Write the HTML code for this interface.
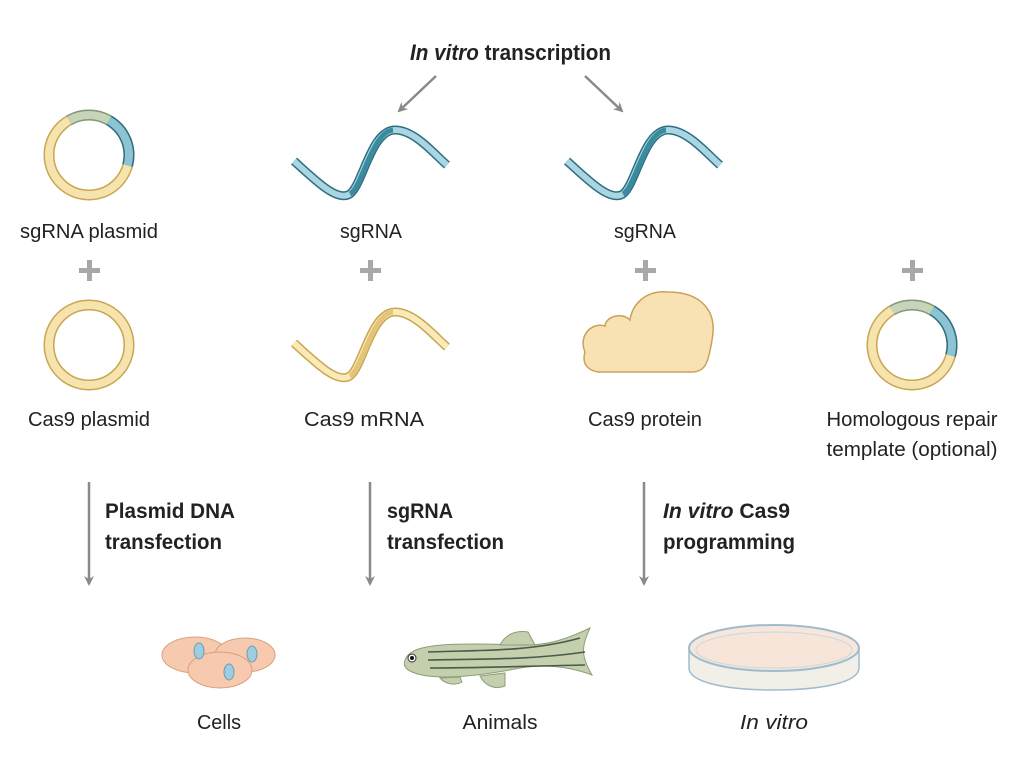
<!DOCTYPE html>
<html><head><meta charset="utf-8"><style>
html,body{margin:0;padding:0;background:#fff;}
svg{display:block;}
text{font-family:"Liberation Sans Narrow","Liberation Sans",sans-serif;fill:#222;}
</style></head><body>
<svg width="1024" height="760" viewBox="0 0 1024 760" xmlns="http://www.w3.org/2000/svg">
<defs>
<marker id="ah" markerWidth="10" markerHeight="10" refX="8" refY="5" orient="auto" markerUnits="userSpaceOnUse">
<path d="M0,0 L10,5 L0,10 L3,5 Z" fill="#8a8a8a"/>
</marker>
<g id="blueRib">
<path d="M294,161 C315,180 335,200 348,195 C362,190 370,130 395,130 C415,130 435,155 447,165" fill="none" stroke="#2d6f80" stroke-width="9" stroke-linecap="butt"/>
<path d="M294,161 C315,180 335,200 348,195 C362,190 370,130 395,130 C415,130 435,155 447,165" fill="none" stroke="#a9d6e2" stroke-width="6"/>
<path d="M350,194 C362,188 372,132 393,130" fill="none" stroke="#3a8aa0" stroke-width="5"/>
</g>
</defs>

<text x="410" y="60" font-size="22" font-weight="bold" textLength="201" lengthAdjust="spacingAndGlyphs"><tspan font-style="italic">In vitro</tspan> transcription</text>
<line x1="436" y1="76" x2="399" y2="111" stroke="#8a8a8a" stroke-width="2.5" marker-end="url(#ah)"/>
<line x1="585" y1="76" x2="622" y2="111" stroke="#8a8a8a" stroke-width="2.5" marker-end="url(#ah)"/>

<circle cx="89" cy="155" r="40" fill="none" stroke="#c9a650" stroke-width="11"/>
<circle cx="89" cy="155" r="40" fill="none" stroke="#f6e3ad" stroke-width="8"/>
<path d="M69,120.4 A40,40 0 0 1 109,120.4" fill="none" stroke="#7f9a7a" stroke-width="11"/>
<path d="M69,120.4 A40,40 0 0 1 109,120.4" fill="none" stroke="#c8d4b8" stroke-width="8"/>
<path d="M109,120.4 A40,40 0 0 1 127.6,165.4" fill="none" stroke="#2d6f80" stroke-width="11"/>
<path d="M109,120.4 A40,40 0 0 1 127.6,165.4" fill="none" stroke="#8cc4d4" stroke-width="8"/>

<use href="#blueRib"/>
<use href="#blueRib" transform="translate(273,0)"/>

<text x="89" y="238" font-size="20" text-anchor="middle" textLength="138" lengthAdjust="spacingAndGlyphs">sgRNA plasmid</text>
<text x="371" y="238" font-size="20" text-anchor="middle" textLength="62" lengthAdjust="spacingAndGlyphs">sgRNA</text>
<text x="645" y="238" font-size="20" text-anchor="middle" textLength="62" lengthAdjust="spacingAndGlyphs">sgRNA</text>

<g fill="#a8a8a8">
<rect x="79" y="268" width="21" height="5"/><rect x="87" y="260" width="5" height="21"/>
<rect x="360" y="268" width="21" height="5"/><rect x="368" y="260" width="5" height="21"/>
<rect x="635" y="268" width="21" height="5"/><rect x="643" y="260" width="5" height="21"/>
<rect x="902" y="268" width="21" height="5"/><rect x="910" y="260" width="5" height="21"/>
</g>

<circle cx="89" cy="345" r="40" fill="none" stroke="#c9a650" stroke-width="11"/>
<circle cx="89" cy="345" r="40" fill="none" stroke="#f6e3ad" stroke-width="8"/>

<g transform="translate(0,182)">
<path d="M294,161 C315,180 335,200 348,195 C362,190 370,130 395,130 C415,130 435,155 447,165" fill="none" stroke="#c9a650" stroke-width="9"/>
<path d="M294,161 C315,180 335,200 348,195 C362,190 370,130 395,130 C415,130 435,155 447,165" fill="none" stroke="#fbe9b8" stroke-width="6"/>
<path d="M350,194 C362,188 372,132 393,130" fill="none" stroke="#e3c57a" stroke-width="5"/>
</g>

<path d="M585,352 C578,335 592,322 605,326 C606,316 622,312 630,320 C632,305 645,290 668,292 C700,292 718,310 712,340 C708,365 705,372 690,372 L598,372 C586,370 582,362 585,352 Z" fill="#f8e2b3" stroke="#c9a25a" stroke-width="1.5"/>

<circle cx="912" cy="345" r="40" fill="none" stroke="#c9a650" stroke-width="11"/>
<circle cx="912" cy="345" r="40" fill="none" stroke="#f6e3ad" stroke-width="8"/>
<path d="M892,310.4 A40,40 0 0 1 932,310.4" fill="none" stroke="#7f9a7a" stroke-width="11"/>
<path d="M892,310.4 A40,40 0 0 1 932,310.4" fill="none" stroke="#c8d4b8" stroke-width="8"/>
<path d="M932,310.4 A40,40 0 0 1 950.6,355.4" fill="none" stroke="#2d6f80" stroke-width="11"/>
<path d="M932,310.4 A40,40 0 0 1 950.6,355.4" fill="none" stroke="#8cc4d4" stroke-width="8"/>

<text x="89" y="426" font-size="20" text-anchor="middle" textLength="122" lengthAdjust="spacingAndGlyphs">Cas9 plasmid</text>
<text x="364" y="426" font-size="20" text-anchor="middle" textLength="120" lengthAdjust="spacingAndGlyphs">Cas9 mRNA</text>
<text x="645" y="426" font-size="20" text-anchor="middle" textLength="114" lengthAdjust="spacingAndGlyphs">Cas9 protein</text>
<text x="912" y="426" font-size="20" text-anchor="middle" textLength="171" lengthAdjust="spacingAndGlyphs">Homologous repair</text>
<text x="912" y="456" font-size="20" text-anchor="middle" textLength="171" lengthAdjust="spacingAndGlyphs">template (optional)</text>

<line x1="89" y1="482" x2="89" y2="584" stroke="#8a8a8a" stroke-width="2.5" marker-end="url(#ah)"/>
<line x1="370" y1="482" x2="370" y2="584" stroke="#8a8a8a" stroke-width="2.5" marker-end="url(#ah)"/>
<line x1="644" y1="482" x2="644" y2="584" stroke="#8a8a8a" stroke-width="2.5" marker-end="url(#ah)"/>

<text x="105" y="518" font-size="21" font-weight="bold" textLength="130" lengthAdjust="spacingAndGlyphs">Plasmid DNA</text>
<text x="105" y="549" font-size="21" font-weight="bold" textLength="117" lengthAdjust="spacingAndGlyphs">transfection</text>
<text x="387" y="518" font-size="21" font-weight="bold" textLength="66" lengthAdjust="spacingAndGlyphs">sgRNA</text>
<text x="387" y="549" font-size="21" font-weight="bold" textLength="117" lengthAdjust="spacingAndGlyphs">transfection</text>
<text x="663" y="518" font-size="21" font-weight="bold" textLength="127" lengthAdjust="spacingAndGlyphs"><tspan font-style="italic">In vitro</tspan> Cas9</text>
<text x="663" y="549" font-size="21" font-weight="bold" textLength="132" lengthAdjust="spacingAndGlyphs">programming</text>

<g stroke="#d9a07e" stroke-width="1" fill="#f7c9ae">
<ellipse cx="195" cy="655" rx="33" ry="18"/>
<ellipse cx="245" cy="655" rx="30" ry="17"/>
<ellipse cx="220" cy="670" rx="32" ry="18"/>
</g>
<g fill="#9fcde0" stroke="#6a9fb5" stroke-width="1">
<ellipse cx="199" cy="651" rx="5" ry="8"/>
<ellipse cx="252" cy="654" rx="5" ry="8"/>
<ellipse cx="229" cy="672" rx="5" ry="8"/>
</g>

<g>
<path d="M405,660 C410,645 440,642 520,645 C545,646 565,640 590,628 C582,645 580,655 592,675 C568,666 545,664 520,668 C470,678 430,680 412,672 C405,669 403,665 405,660 Z" fill="#c4cfae" stroke="#8f9c78" stroke-width="1"/>
<path d="M500,645 C505,635 515,630 528,632 L535,645 Z" fill="#c4cfae" stroke="#8f9c78" stroke-width="1"/>
<path d="M480,676 C485,686 495,690 505,686 L505,673 Z" fill="#c4cfae" stroke="#8f9c78" stroke-width="1"/>
<path d="M440,678 C445,684 455,686 462,682 L460,677 Z" fill="#c4cfae" stroke="#8f9c78" stroke-width="1"/>
<path d="M428,652 C480,650 530,652 580,638" fill="none" stroke="#4a5a48" stroke-width="1.6"/>
<path d="M428,660 C480,659 530,660 585,652" fill="none" stroke="#4a5a48" stroke-width="1.6"/>
<path d="M430,668 C480,668 530,666 585,665" fill="none" stroke="#4a5a48" stroke-width="1.6"/>
<circle cx="412" cy="658" r="4" fill="#fff" stroke="#333" stroke-width="1"/>
<circle cx="412" cy="658" r="2" fill="#111"/>
</g>

<g>
<path d="M689,648 L689,668 C689,682 725,690 774,690 C823,690 859,682 859,668 L859,648 Z" fill="#f2eee8" stroke="#9fbccc" stroke-width="1.5"/>
<ellipse cx="774" cy="648" rx="85" ry="23" fill="#f7e6dc" stroke="#9fbccc" stroke-width="2"/>
<ellipse cx="774" cy="650" rx="78" ry="18" fill="#f8e5d9" stroke="#c8d8e0" stroke-width="1"/>
</g>

<text x="219" y="729" font-size="20" text-anchor="middle" textLength="44" lengthAdjust="spacingAndGlyphs">Cells</text>
<text x="500" y="729" font-size="20" text-anchor="middle" textLength="75" lengthAdjust="spacingAndGlyphs">Animals</text>
<text x="774" y="729" font-size="20" font-style="italic" text-anchor="middle" textLength="68" lengthAdjust="spacingAndGlyphs">In vitro</text>
</svg>
</body></html>
